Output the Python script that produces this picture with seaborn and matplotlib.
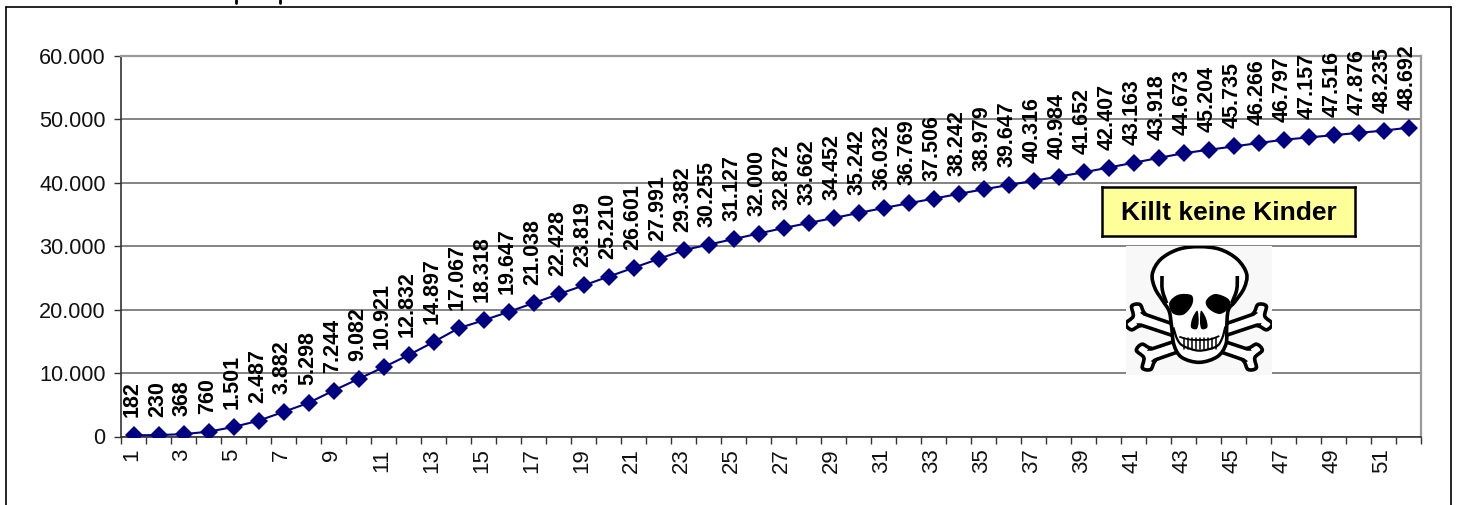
import numpy as np
import matplotlib
matplotlib.use("Agg")
import matplotlib.pyplot as plt
import seaborn as sns
from matplotlib.lines import Line2D
from matplotlib.patches import PathPatch, Rectangle
from matplotlib.path import Path
from matplotlib.ticker import FuncFormatter
from matplotlib.transforms import ScaledTranslation

weeks = list(range(1, 53))
cases = [
    182, 230, 368, 760, 1501, 2487, 3882, 5298, 7244, 9082,
    10921, 12832, 14897, 17067, 18318, 19647, 21038, 22428, 23819, 25210,
    26601, 27991, 29382, 30255, 31127, 32000, 32872, 33662, 34452, 35242,
    36032, 36769, 37506, 38242, 38979, 39647, 40316, 40984, 41652, 42407,
    43163, 43918, 44673, 45204, 45735, 46266, 46797, 47157, 47516, 47876,
    48235, 48692,
]
y_ticks = [0, 10000, 20000, 30000, 40000, 50000, 60000]
note_text = "Killt keine Kinder"

W, H = 1458, 505
NAVY = "#000080"
GRID = "#7a7a7a"


def dotted(v):
    return f"{int(v):,}".replace(",", ".")


def px_rect(x0, y0, x1, y1):
    # pixel box (y from top) to figure fractions
    return [x0 / W, 1 - y1 / H, (x1 - x0) / W, (y1 - y0) / H]


def smooth(points, closed=True):
    # Catmull-Rom through the points, as a bezier path
    p = np.array(points, dtype=float)
    n = len(p)
    verts = [p[0]]
    codes = [Path.MOVETO]
    last = n if closed else n - 1
    for i in range(last):
        if closed:
            p0, p1, p2, p3 = p[(i - 1) % n], p[i], p[(i + 1) % n], p[(i + 2) % n]
        else:
            p0, p1, p2, p3 = p[max(i - 1, 0)], p[i], p[i + 1], p[min(i + 2, n - 1)]
        verts += [p1 + (p2 - p0) / 6, p2 - (p3 - p1) / 6, p2]
        codes += [Path.CURVE4] * 3
    return Path(verts, codes)


def bone(start, end):
    # bone outline between two end points, with a double knob at each end
    start, end = np.array(start, float), np.array(end, float)
    u = (end - start) / np.hypot(*(end - start))
    v = np.array([-u[1], u[0]])
    near = [(30, 17), (0, 21), (-20, 40), (-42, 28), (-28, 0), (-42, -28), (-20, -40), (0, -21), (30, -17)]
    far = [(-30, -17), (0, -21), (20, -40), (42, -28), (28, 0), (42, 28), (20, 40), (0, 21), (-30, 17)]
    pts = [start + a * u + b * v for a, b in near] + [end + a * u + b * v for a, b in far]
    return smooth(pts)


sns.set_theme(style="white")
plt.rcParams["font.family"] = ["Liberation Sans", "DejaVu Sans"]
plt.rcParams["text.color"] = "#111111"

fig = plt.figure(figsize=(W / 100, H / 100), dpi=100, facecolor="white")
ax = fig.add_axes(px_rect(121, 56, 1421, 436.5))

sns.lineplot(
    x=weeks, y=cases, ax=ax, color=NAVY, linewidth=1.5,
    marker="D", markersize=9, markeredgewidth=0, errorbar=None, zorder=5,
)

ax.set_xlim(0.5, 52.5)
ax.set_ylim(0, 60000)
ax.set_xlabel("")
ax.set_ylabel("")

ax.set_yticks(y_ticks)
ax.yaxis.set_major_formatter(FuncFormatter(lambda v, _: dotted(v)))
ax.grid(axis="y", color=GRID, linewidth=1.3)
ax.set_axisbelow(True)
ax.tick_params(axis="y", left=True, length=5, width=1, color="#333333", labelsize=15.6, pad=6, labelcolor="#111111")

# tick marks between categories, labels on every second category
ax.set_xticks(np.arange(0.5, 53, 1))
ax.set_xticklabels([])
ax.tick_params(axis="x", which="major", bottom=True, length=5, width=1, color="#333333")
ax.set_xticks(weeks[::2], minor=True)
ax.set_xticklabels([str(w) for w in weeks[::2]], minor=True, rotation=90, fontsize=16, color="#111111")
ax.tick_params(axis="x", which="minor", bottom=False, length=0, pad=8.5)
shift = ScaledTranslation(-2 / 100, 0, fig.dpi_scale_trans)
for label in ax.get_xticklabels(minor=True):
    label.set_transform(label.get_transform() + shift)

for side in ["left", "bottom"]:
    ax.spines[side].set_color("#333333")
    ax.spines[side].set_linewidth(1.2)
for side in ["top", "right"]:
    ax.spines[side].set_color("#9a9a9a")
    ax.spines[side].set_linewidth(1.6)

for w, c in zip(weeks, cases):
    ax.annotate(
        dotted(c), (w, c), xytext=(-1, 18), textcoords="offset pixels",
        rotation=90, ha="center", va="bottom", fontsize=15.5, fontweight="bold",
        color="black", zorder=6, annotation_clip=False,
    )

# outer chart frame, cut off by the page at the bottom
for xs, ys in [((5.5, 5.5), (505, 6.5)), ((5.5, 1450.5), (6.5, 6.5)), ((1450.5, 1450.5), (6.5, 505))]:
    fig.add_artist(Line2D([x / W for x in xs], [1 - y / H for y in ys], color="black", linewidth=1.2))
# remains of the cropped heading above the frame
for x in (236, 280):
    fig.add_artist(Line2D([x / W, x / W], [1 - 0 / H, 1 - 2.5 / H], color="black", linewidth=2))

# yellow note
note = fig.add_axes(px_rect(1102, 187, 1355, 236), zorder=7)
note.set_facecolor("#ffff99")
note.set_xticks([])
note.set_yticks([])
for s in note.spines.values():
    s.set_color("black")
    s.set_linewidth(1.8)
note.text(0.5, 0.47, note_text, ha="center", va="center", fontsize=19, fontweight="bold",
          color="black", transform=note.transAxes)

# skull and crossbones, drawn in coordinates local to the little box
sk = fig.add_axes(px_rect(1126, 246, 1272, 375), zorder=7)
sk.set_xlim(18, 456)
sk.set_ylim(405, 18)
sk.axis("off")
sk.add_patch(Rectangle((18, 18), 438, 387, facecolor="#f8f8f8", edgecolor="none"))

LW = 2.6
for a, b in [((66, 238), (378, 344)), ((408, 238), (98, 344))]:
    sk.add_patch(PathPatch(bone(a, b), facecolor="white", edgecolor="black", linewidth=LW))

skull_outline = [
    (130, 185), (105, 145), (97, 102), (122, 58), (175, 28), (237, 20), (300, 28), (352, 58),
    (380, 102), (372, 145), (345, 185), (325, 210), (320, 262), (318, 312), (292, 350),
    (238, 367), (185, 352), (162, 315), (155, 262), (148, 215),
]
sk.add_patch(PathPatch(smooth(skull_outline), facecolor="white", edgecolor="black", linewidth=LW))

for line in [[(126, 108), (127, 150), (140, 190)], [(352, 108), (350, 150), (335, 190)]]:
    sk.add_patch(PathPatch(smooth(line, closed=False), facecolor="none", edgecolor="black", linewidth=LW))

left_eye = [(148, 188), (175, 164), (215, 166), (216, 195), (190, 224), (158, 220)]
right_eye = [(258, 182), (285, 162), (324, 176), (330, 200), (300, 222), (266, 206)]
left_nose = [(232, 212), (236, 245), (230, 267), (213, 262), (217, 235)]
right_nose = [(243, 212), (240, 245), (245, 267), (262, 262), (258, 235)]
for shape in [left_eye, right_eye, left_nose, right_nose]:
    sk.add_patch(PathPatch(smooth(shape), facecolor="black", edgecolor="none"))

# jaw and teeth
jaw = [(160, 262), (172, 298), (190, 318), (237, 332), (288, 320), (306, 296), (316, 260)]
sk.add_patch(PathPatch(smooth(jaw, closed=False), facecolor="none", edgecolor="black", linewidth=1.6))
upper = [(178, 290), (205, 298), (237, 300), (270, 298), (298, 288)]
sk.add_patch(PathPatch(smooth(upper, closed=False), facecolor="none", edgecolor="black", linewidth=1.3))
for x in np.arange(192, 292, 12):
    sk.plot([x, x], [294, 326], color="black", linewidth=1.1)

fig.savefig("out.png", dpi=100)
plt.close(fig)
